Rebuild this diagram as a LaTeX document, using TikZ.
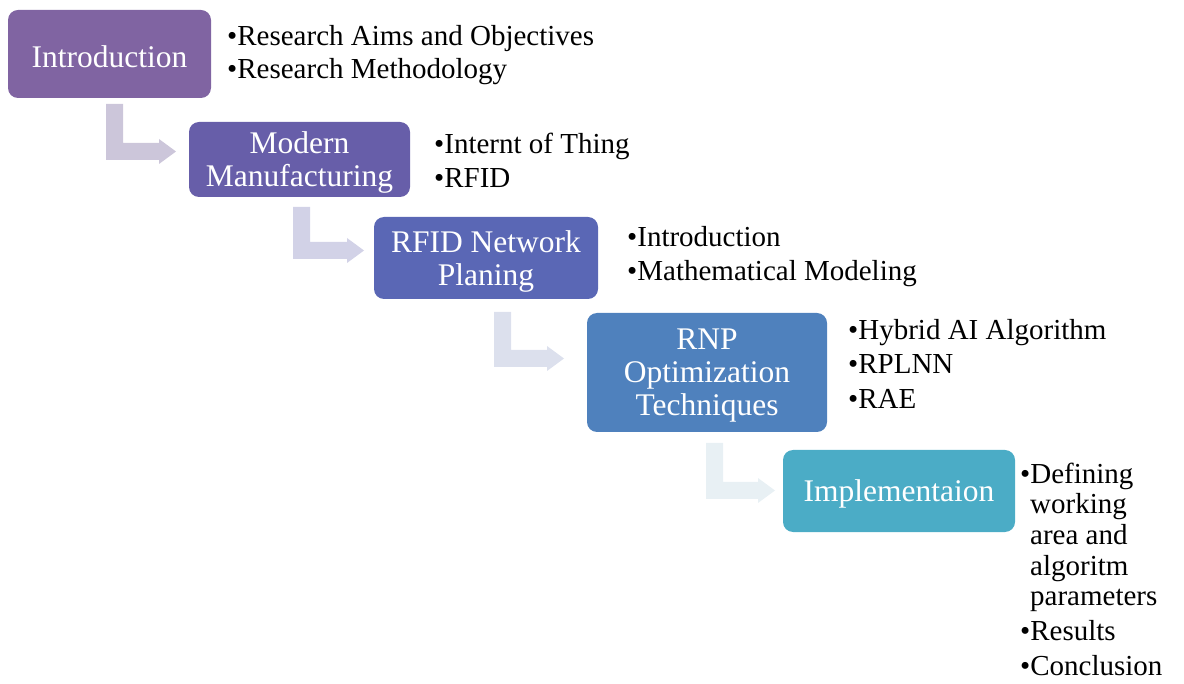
\documentclass[tikz,border=0pt]{standalone}
\usepackage{fontspec}
\setmainfont{Liberation Serif}
\definecolor{cA}{HTML}{8064A2}
\definecolor{cB}{HTML}{675EA9}
\definecolor{cC}{HTML}{5A67B5}
\definecolor{cD}{HTML}{4F81BD}
\definecolor{cE}{HTML}{4BACC6}
\definecolor{aA}{HTML}{CCC6DA}
\definecolor{aB}{HTML}{D2D2E7}
\definecolor{aC}{HTML}{DCE0ED}
\definecolor{aD}{HTML}{E8F0F4}
\newcommand{\bentarr}[6]{\fill[#1] (#2,#3) -- ({#2+17},#3) -- ({#2+17},#4) -- (#5,#4) -- (#5,{#4-4}) -- (#6,{#4+8.5}) -- (#5,{#4+21}) -- (#5,{#4+17}) -- (#2,{#4+17}) -- cycle;}
\begin{document}
\begin{tikzpicture}[x=1pt,y=-1pt,
  box/.style={rounded corners=10pt, inner sep=0pt},
  boxtxt/.style={inner sep=0pt, text=white, align=center, yshift=-3pt,
    font=\fontsize{31.5}{33}\selectfont},
  bul/.style={anchor=base west, inner sep=0pt, font=\fontsize{29}{33}\selectfont}]
\useasboundingbox (0,0) rectangle (1184,684);
% boxes
\node[box, fill=cA, minimum width=203pt, minimum height=88pt] (b1) at (109.5,54) {};
\node[box, fill=cB, minimum width=221pt, minimum height=75pt] (b2) at (299.5,159.5) {};
\node[box, fill=cC, minimum width=224pt, minimum height=82pt] (b3) at (486,258) {};
\node[box, fill=cD, minimum width=240pt, minimum height=119pt] (b4) at (707,372.5) {};
\node[box, fill=cE, minimum width=232pt, minimum height=82pt] (b5) at (899,491) {};
\node[boxtxt] (t1) at (b1.center) {Introduction};
\node[boxtxt] (t2) at (b2.center) {Modern\\Manufacturing};
\node[boxtxt] (t3) at (b3.center) {RFID Network\\Planing};
\node[boxtxt] (t4) at (b4.center) {RNP\\Optimization\\Techniques};
\node[boxtxt] (t5) at (b5.center) {Implementaion};
% bent arrows
\bentarr{aA}{106}{104}{143}{159}{176}
\bentarr{aB}{293}{207}{242}{347}{364}
\bentarr{aC}{494}{312}{350}{547}{564}
\bentarr{aD}{706}{443}{482}{758}{775}
% bullet lists
\node[bul] (l1a) at (227,46) {•Research Aims and Objectives};
\node[bul] (l1b) at (227,79) {•Research Methodology};
\node[bul] (l2a) at (434,154) {•Internt of Thing};
\node[bul] (l2b) at (434,188) {•RFID};
\node[bul] (l3a) at (627,247) {•Introduction};
\node[bul] (l3b) at (627,281) {•Mathematical Modeling};
\node[bul] (l4a) at (848,340) {•Hybrid AI Algorithm};
\node[bul] (l4b) at (848,374) {•RPLNN};
\node[bul] (l4c) at (848,409) {•RAE};
\node[bul] (l5a) at (1020,483) {•Defining};
\node[bul] (l5b) at (1030,514) {working};
\node[bul] (l5c) at (1030,544) {area and};
\node[bul] (l5d) at (1030,575) {algoritm};
\node[bul] (l5e) at (1030,605) {parameters};
\node[bul] (l5f) at (1020,640) {•Results};
\node[bul] (l5g) at (1020,675) {•Conclusion};
\end{tikzpicture}
\end{document}
